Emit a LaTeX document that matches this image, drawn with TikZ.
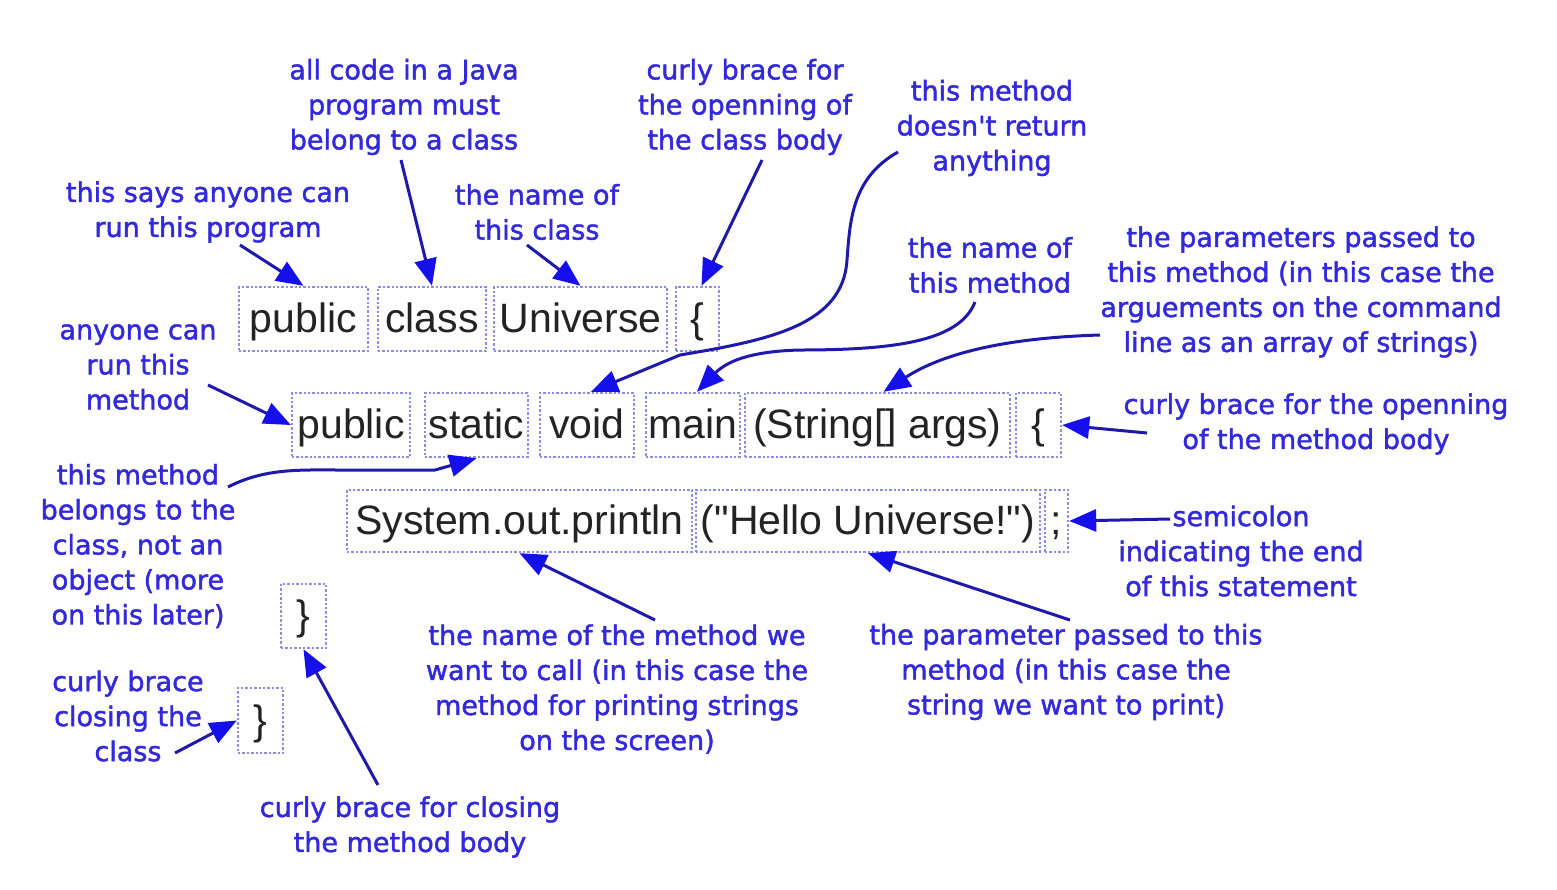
\documentclass[tikz,border=0pt]{standalone}
\usepackage{fontspec}
\setmainfont{Liberation Sans}
\newfontfamily\codefont{Liberation Sans}
\newfontfamily\annfont{DejaVu Sans}[FakeBold=1.6]
\usetikzlibrary{arrows.meta}
\definecolor{annblue}{RGB}{50,40,220}
\definecolor{lineblue}{RGB}{30,25,170}
\definecolor{headblue}{RGB}{20,15,235}
\definecolor{boxline}{RGB}{140,140,225}
\definecolor{codegray}{RGB}{35,35,35}
\tikzset{
  codebox/.style={draw=boxline, densely dotted, line width=1.2pt, inner sep=0pt,
    text=codegray, font=\codefont\fontsize{20.5}{24}\selectfont,
    text height=16.5pt, text depth=3pt, minimum height=32pt},
  ann/.style={text=annblue, align=center, inner sep=0pt,
    font=\annfont\fontsize{13.5}{17.5}\selectfont},
  arr/.style={draw=lineblue, line width=1.5pt,
    -{Triangle[length=13.5pt,width=11pt,color=headblue]}}
}
\begin{document}
\begin{tikzpicture}[x=0.5pt,y=-0.5pt]
\useasboundingbox[fill=white] (0,0) rectangle (1557,889);

% code row 1
\node[codebox, minimum width=64.5pt] (pub1) at (303.5,319) {public};
\node[codebox, minimum width=54pt] (cls) at (432,319) {class};
\node[codebox, minimum width=86.5pt] (uni) at (580.5,319) {Universe};
\node[codebox, minimum width=21.5pt] (lb1) at (697.5,319) {\{};
% code row 2
\node[codebox, minimum width=59pt] (pub2) at (351,425) {public};
\node[codebox, minimum width=51.5pt] (stat) at (476.5,425) {static};
\node[codebox, minimum width=47pt] (void) at (587,425) {void};
\node[codebox, minimum width=47pt] (main) at (693,425) {main};
\node[codebox, minimum width=132.5pt] (args) at (877.5,425) {(String[] args)};
\node[codebox, minimum width=22.5pt] (lb2) at (1038.5,425) {\{};
% code row 3
\node[codebox, minimum width=172.5pt, minimum height=31pt] (prn) at (519.5,521) {System.out.println};
\node[codebox, minimum width=172pt, minimum height=31pt] (hello) at (868,521) {("Hello Universe!")};
\node[codebox, minimum width=11.5pt, minimum height=31pt] (semi) at (1056.5,521) {;};
% closing braces
\node[codebox, minimum width=22.5pt] (rb1) at (303.5,616) {\}};
\node[codebox, minimum width=22.5pt, minimum height=32.5pt] (rb2) at (260.5,720.5) {\}};

% annotations
\node[ann] (a1) at (208,212) {this says anyone can\\run this program};
\node[ann] (a2) at (404,107) {all code in a Java\\program must\\belong to a class};
\node[ann] (a3) at (537,212) {the name of\\this class};
\node[ann] (a4) at (745,107) {curly brace for\\the openning of\\the class body};
\node[ann] (a5) at (992,128) {this method\\doesn't return\\anything};
\node[ann] (a6) at (990,265) {the name of\\this method};
\node[ann] (a7) at (1301,292) {the parameters passed to\\this method (in this case the\\arguements on the command\\line as an array of strings)};
\node[ann] (a8) at (138,367) {anyone can\\run this\\method};
\node[ann] (a9) at (138,546) {this method\\belongs to the\\class, not an\\object (more\\on this later)};
\node[ann] (a10) at (1316,424) {curly brace for the openning\\of the method body};
\node[ann] (a11) at (1241,551) {semicolon\\indicating the end\\of this statement};
\node[ann] (a12) at (617,689) {the name of the method we\\want to call (in this case the\\method for printing strings\\on the screen)};
\node[ann] (a13) at (1066,672) {the parameter passed to this\\method (in this case the\\string we want to print)};
\node[ann] (a14) at (410,827) {curly brace for closing\\the method body};
\node[ann] (a15) at (128,716) {curly brace\\closing the\\class};

% free ends of connectors
\coordinate (c1) at (240,245);
\coordinate (c2) at (401,160);
\coordinate (c3) at (527,245);
\coordinate (c4) at (762,160);
\coordinate (c5) at (898,152);
\coordinate (c6) at (975,302);
\coordinate (c7) at (1100,335);
\coordinate (c8) at (208,385);
\coordinate (c9) at (228,487);
\coordinate (c10) at (1147,433);
\coordinate (c11) at (1170,519);
\coordinate (c12) at (655,620);
\coordinate (c13) at (1070,620);
\coordinate (c14) at (378,785);
\coordinate (c15) at (175,753);

% connectors
\draw[arr] (c1) -- (pub1.north);
\draw[arr] (c2) -- (cls.north);
\draw[arr] (c3) -- (uni.north);
\draw[arr] (c4) -- ([xshift=2pt]lb1.north);
\draw[arr] (c5) .. controls (852,178) and (850,220) .. (847,260)
  .. controls (843,325) and (770,340) .. (680,355) -- ([xshift=2pt]void.north);
\draw[arr] (c6) .. controls (960,340) and (900,350) .. (800,350)
  .. controls (760,351) and (730,358) .. ([xshift=2pt]main.north);
\draw[arr] (c7) .. controls (1000,338) and (940,355) .. ([xshift=3pt]args.north);
\draw[arr] (c8) -- (pub2.west);
\draw[arr] (c9) .. controls (265,468) and (300,470) .. (340,470) -- (435,470) -- (stat.south);
\draw[arr] (c10) -- (lb2.east);
\draw[arr] (c11) -- (semi.east);
\draw[arr] (c12) -- (prn.south);
\draw[arr] (c13) -- (hello.south);
\draw[arr] (c14) -- (rb1.south);
\draw[arr] (c15) -- (rb2.west);
\end{tikzpicture}
\end{document}
